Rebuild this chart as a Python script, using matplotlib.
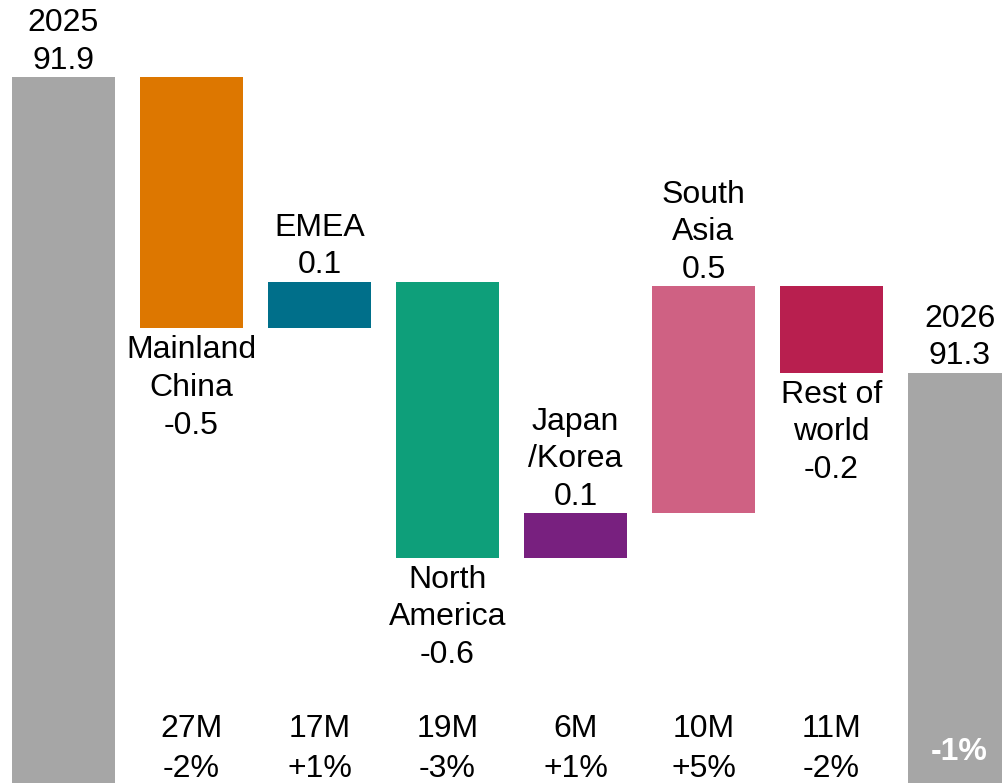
import matplotlib.pyplot as plt

plt.rcParams['font.family'] = ['Liberation Sans', 'DejaVu Sans']

# opening / closing totals (millions of units)
start_label = '2025\n91.9'
end_label = '2026\n91.3'
start_total = 91.9
end_total = 91.3

# regional contributions to the change
regions = ['Mainland\nChina', 'EMEA', 'North\nAmerica', 'Japan\n/Korea',
           'South\nAsia', 'Rest of\nworld']
changes = [-0.51, 0.095, -0.56, 0.09, 0.46, -0.175]
region_volumes = ['27M', '17M', '19M', '6M', '10M', '11M']
region_growth = ['-2%', '+1%', '-3%', '+1%', '+5%', '-2%']
total_growth = '-1%'

colors = ['#DD7700', '#006F8A', '#0E9F7A', '#78207F', '#CF6183', '#B81F4F']
gray = '#A6A6A6'

fig = plt.figure(figsize=(10.02, 7.83), dpi=100)
ax = fig.add_axes([0, 0, 1, 1])

ymin, ymax = 90.468, 92.056
width = 0.8
fs = 23
ls = 1.33
up = 1     # gap above a bar, points
down = -5  # gap below a bar, points

# opening total
ax.bar(0, start_total - ymin, bottom=ymin, width=width, color=gray)
ax.annotate(start_label, (0, start_total), xytext=(0, up), textcoords='offset points',
            ha='center', va='bottom', fontsize=fs, linespacing=ls)

# floating bars for each region
level = start_total
for i, (name, d, c) in enumerate(zip(regions, changes, colors), start=1):
    lo, hi = min(level, level + d), max(level, level + d)
    ax.bar(i, hi - lo, bottom=lo, width=width, color=c)
    label = f'{name}\n{d:.1f}'
    if d >= 0:
        ax.annotate(label, (i, hi), xytext=(0, up), textcoords='offset points',
                    ha='center', va='bottom', fontsize=fs, linespacing=ls)
    else:
        ax.annotate(label, (i, lo), xytext=(0, down), textcoords='offset points',
                    ha='center', va='top', fontsize=fs, linespacing=ls)
    level += d

# closing total
n = len(regions) + 1
ax.bar(n, end_total - ymin, bottom=ymin, width=width, color=gray)
ax.annotate(end_label, (n, end_total), xytext=(0, up), textcoords='offset points',
            ha='center', va='bottom', fontsize=fs, linespacing=ls)

# volume and growth rows along the bottom
trans = ax.get_xaxis_transform()
for i, (v, g) in enumerate(zip(region_volumes, region_growth), start=1):
    ax.text(i, 0.0587, v, transform=trans, ha='center', va='baseline', fontsize=fs)
    ax.text(i, 0.0077, g, transform=trans, ha='center', va='baseline', fontsize=fs)
ax.text(n, 0.04, total_growth, transform=trans, ha='center', va='center',
        fontsize=fs, color='white', fontweight='bold')

ax.set_xlim(-0.496, 7.332)
ax.set_ylim(ymin, ymax)
ax.axis('off')

fig.savefig('out.png', dpi=100)
